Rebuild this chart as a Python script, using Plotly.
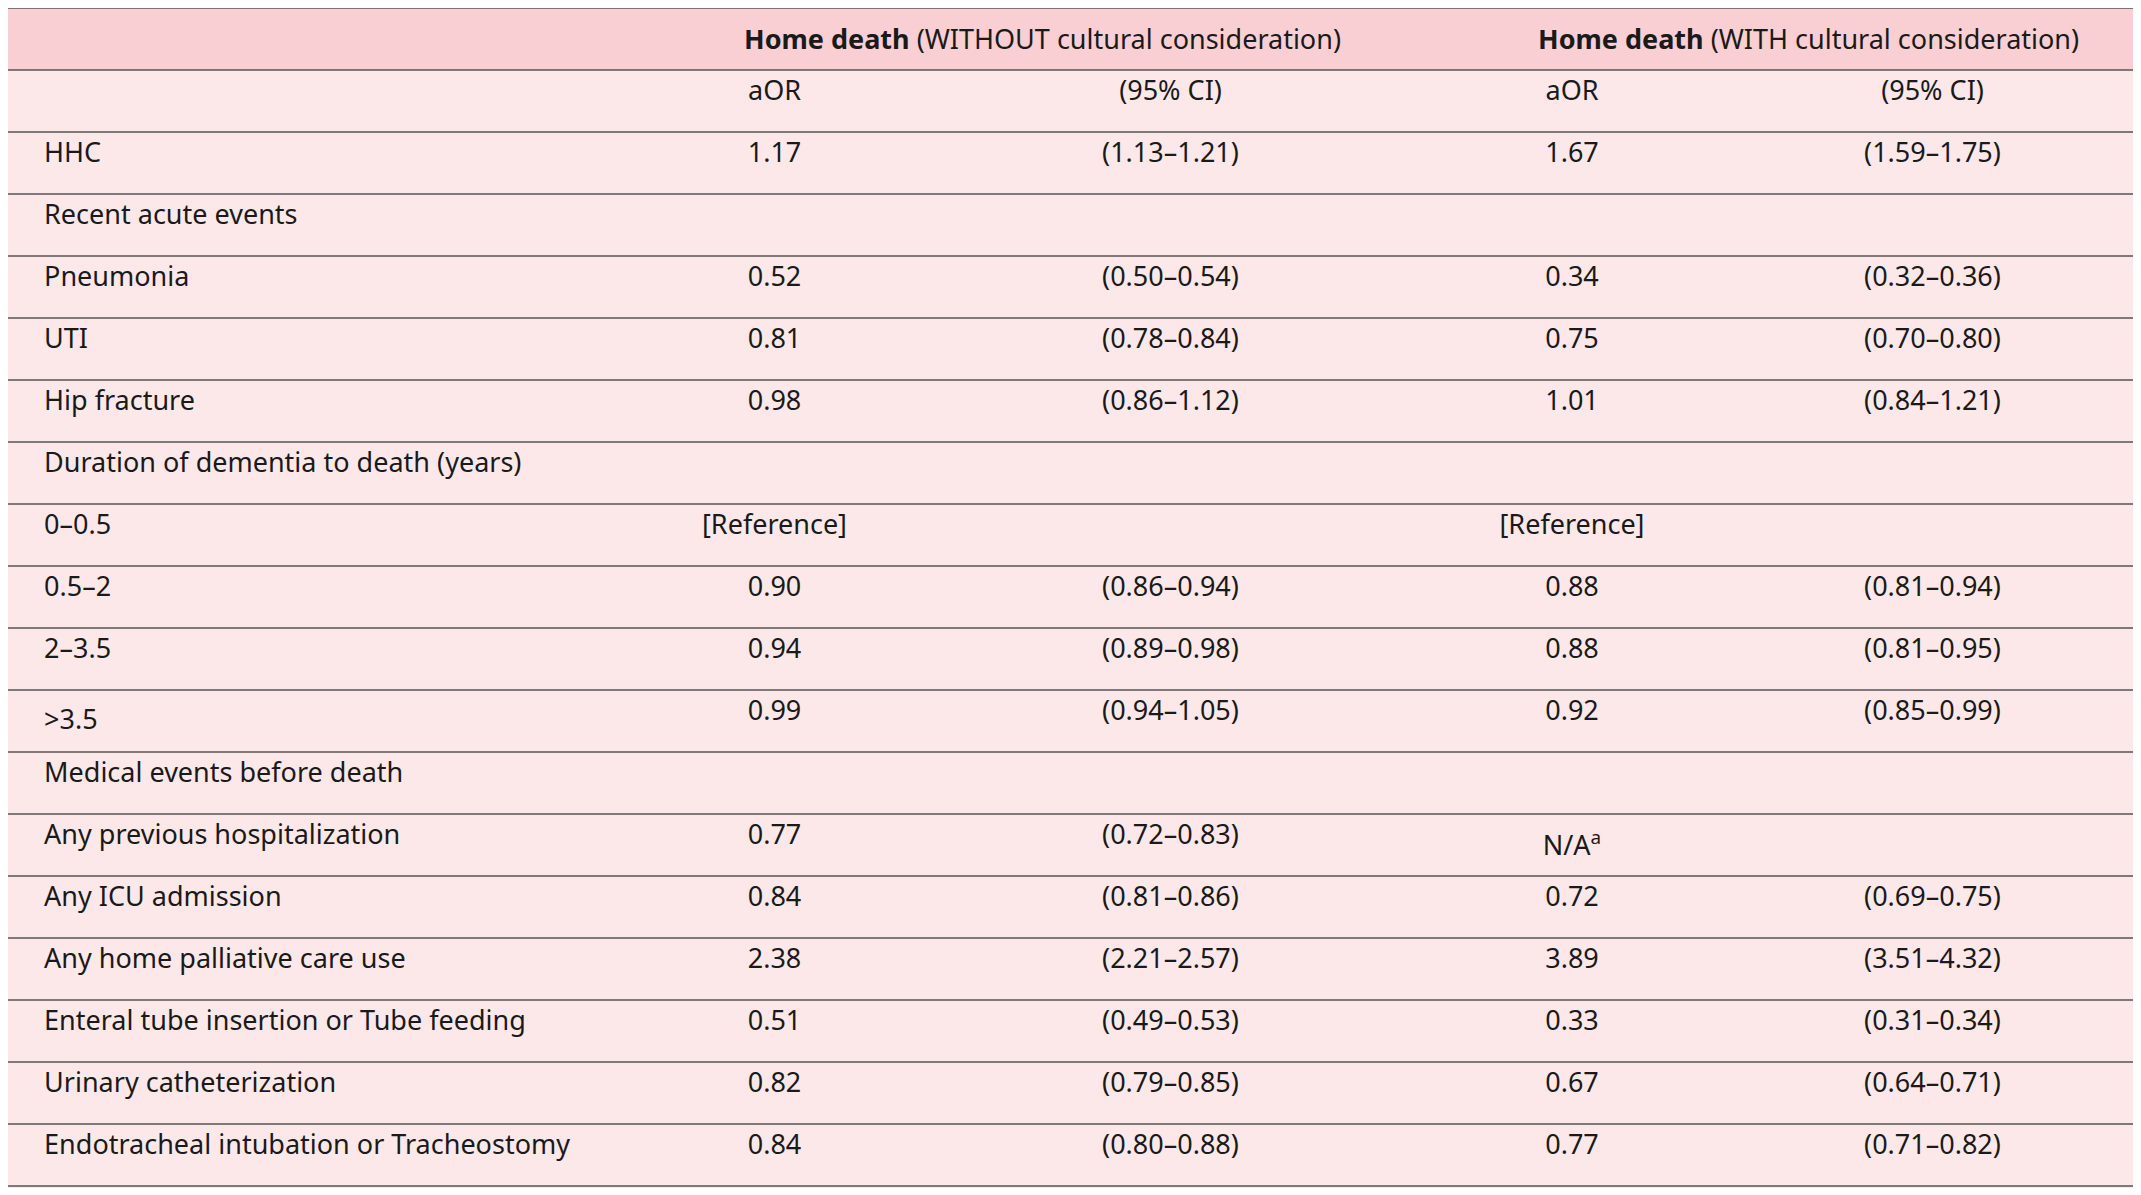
import plotly.graph_objects as go

variables = ["", "HHC", "Recent acute events", "Pneumonia", "UTI", "Hip fracture",
             "Duration of dementia to death (years)", "0–0.5", "0.5–2", "2–3.5", ">3.5",
             "Medical events before death", "Any previous hospitalization", "Any ICU admission",
             "Any home palliative care use", "Enteral tube insertion or Tube feeding",
             "Urinary catheterization", "Endotracheal intubation or Tracheostomy"]
aor_without = ["aOR", "1.17", "", "0.52", "0.81", "0.98", "", "[Reference]", "0.90", "0.94", "0.99",
               "", "0.77", "0.84", "2.38", "0.51", "0.82", "0.84"]
ci_without = ["(95% CI)", "(1.13–1.21)", "", "(0.50–0.54)", "(0.78–0.84)", "(0.86–1.12)", "", "",
              "(0.86–0.94)", "(0.89–0.98)", "(0.94–1.05)", "", "(0.72–0.83)", "(0.81–0.86)",
              "(2.21–2.57)", "(0.49–0.53)", "(0.79–0.85)", "(0.80–0.88)"]
aor_with = ["aOR", "1.67", "", "0.34", "0.75", "1.01", "", "[Reference]", "0.88", "0.88", "0.92",
            "", "N/A<sup>a</sup>", "0.72", "3.89", "0.33", "0.67", "0.77"]
ci_with = ["(95% CI)", "(1.59–1.75)", "", "(0.32–0.36)", "(0.70–0.80)", "(0.84–1.21)", "", "",
           "(0.81–0.94)", "(0.81–0.95)", "(0.85–0.99)", "", "", "(0.69–0.75)",
           "(3.51–4.32)", "(0.31–0.34)", "(0.64–0.71)", "(0.71–0.82)"]
group_titles = ["<b>Home death</b> (WITHOUT cultural consideration)",
                "<b>Home death</b> (WITH cultural consideration)"]

W, H = 2141, 1195
row_h = 62
head_h = 64
body_bg = "#fde8e9"
head_bg = "#f9cfd3"
font = dict(family="Noto Sans", size=27, color="#1a1a1a")

pad = "\u00a0" * 4
fig = go.Figure(go.Table(
    columnwidth=[628, 277, 515, 288, 433],
    header=dict(values=[""] * 5, fill_color=body_bg, line_width=0, height=head_h),
    cells=dict(values=[[pad + v.replace(">", "&gt;") for v in variables],
                       aor_without, ci_without, aor_with, ci_with],
               fill_color=body_bg, line_width=0, height=row_h, font=font,
               align=["left", "center", "center", "center", "center"]),
    domain=dict(x=[0, 1], y=[0, 1]),
))

# pink band for the header row, then horizontal rules between rows
shapes = [dict(type="rect", xref="paper", yref="paper", x0=0, x1=1,
               y0=(H - row_h) / H, y1=1, fillcolor=head_bg, line_width=0)]
line_ys = [0] + [row_h * (k + 1) for k in range(len(variables) + 1)]
for yy in line_ys:
    y = (H - yy) / H
    shapes.append(dict(type="line", xref="paper", yref="paper", x0=0, x1=1,
                       y0=y, y1=y, line=dict(color="#555555", width=1.5)))
fig.update_layout(
    width=W, height=H, margin=dict(l=0, r=0, t=0, b=0), paper_bgcolor="white",
    shapes=shapes,
    annotations=[dict(text=t, x=x, y=(H - row_h / 2) / H, xref="paper", yref="paper",
                      xanchor="center", yanchor="middle", showarrow=False, font=font)
                 for t, x in zip(group_titles, [0.483, 0.841])],
)
fig.write_html("out.html")
